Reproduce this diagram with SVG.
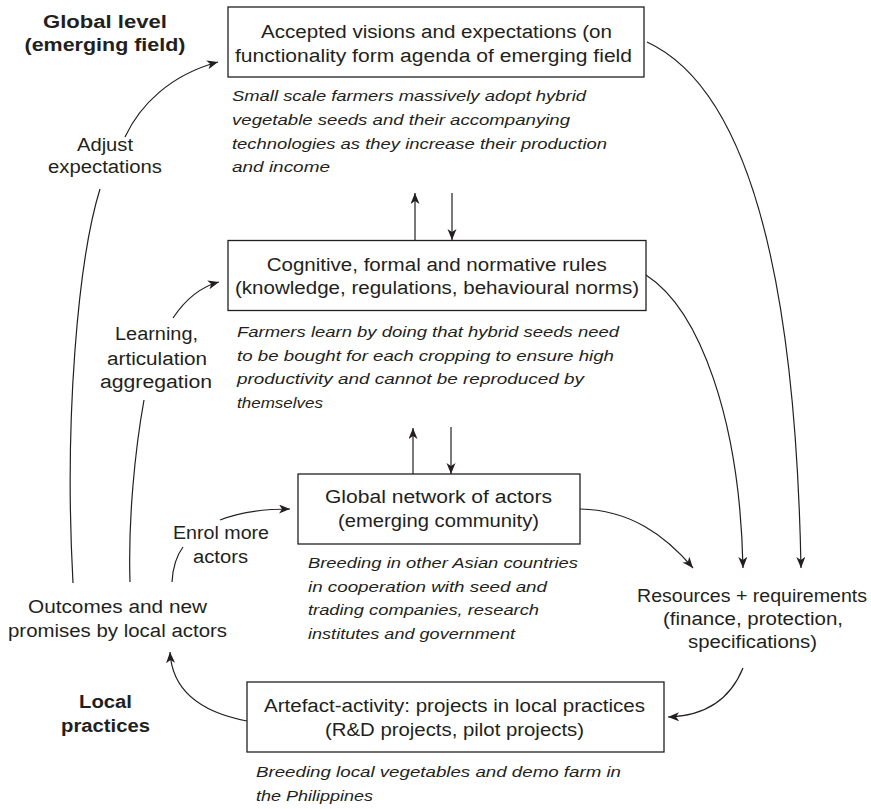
<svg xmlns="http://www.w3.org/2000/svg" width="871" height="809" viewBox="0 0 871 809">
<defs>
<marker id="ah" markerWidth="12" markerHeight="10" refX="11" refY="4.5" orient="auto" markerUnits="userSpaceOnUse">
<path d="M0,0 L11,4.5 L0,9 L3,4.5 z" fill="#231f20"/>
</marker>
<style>
.box{fill:#fff;stroke:#231f20;stroke-width:1.3}
text{lengthAdjust:spacingAndGlyphs}
.t{font-family:"Liberation Sans",Arial,sans-serif;font-size:18px;fill:#231f20;text-anchor:middle}
.b{font-family:"Liberation Sans",Arial,sans-serif;font-size:18px;font-weight:bold;fill:#231f20;text-anchor:middle}
.i{font-family:"Liberation Sans",Arial,sans-serif;font-size:15px;font-style:italic;fill:#231f20}
.c{fill:none;stroke:#231f20;stroke-width:1.2}
.a{marker-end:url(#ah)}
</style>
</defs>
<rect width="871" height="809" fill="#fff"/>

<g id="label-global">
<text class="b" x="105" y="28" textLength="124" lengthAdjust="spacingAndGlyphs">Global level</text>
<text class="b" x="105" y="51" textLength="161" lengthAdjust="spacingAndGlyphs">(emerging field)</text>
</g>
<g id="label-local">
<text class="b" x="105.5" y="708" textLength="53" lengthAdjust="spacingAndGlyphs">Local</text>
<text class="b" x="105.5" y="732" textLength="89" lengthAdjust="spacingAndGlyphs">practices</text>
</g>

<g id="visions">
<rect class="box" x="228" y="7" width="416" height="70"/>
<text class="t" x="436.5" y="38" textLength="351" lengthAdjust="spacingAndGlyphs">Accepted visions and expectations (on</text>
<text class="t" x="433.5" y="62" textLength="397" lengthAdjust="spacingAndGlyphs">functionality form agenda of emerging field</text>
<text class="i" x="232" y="101" textLength="354" lengthAdjust="spacingAndGlyphs">Small scale farmers massively adopt hybrid</text>
<text class="i" x="232" y="125" textLength="338" lengthAdjust="spacingAndGlyphs">vegetable seeds and their accompanying</text>
<text class="i" x="232" y="149" textLength="375" lengthAdjust="spacingAndGlyphs">technologies as they increase their production</text>
<text class="i" x="232" y="172" textLength="98" lengthAdjust="spacingAndGlyphs">and income</text>
</g>

<g id="rules">
<rect class="box" x="228" y="240.5" width="418" height="70"/>
<text class="t" x="436.7" y="271" textLength="340" lengthAdjust="spacingAndGlyphs">Cognitive, formal and normative rules</text>
<text class="t" x="437" y="294" textLength="404" lengthAdjust="spacingAndGlyphs">(knowledge, regulations, behavioural norms)</text>
<text class="i" x="237" y="337" textLength="382" lengthAdjust="spacingAndGlyphs">Farmers learn by doing that hybrid seeds need</text>
<text class="i" x="237" y="361" textLength="377" lengthAdjust="spacingAndGlyphs">to be bought for each cropping to ensure high</text>
<text class="i" x="237" y="384" textLength="347" lengthAdjust="spacingAndGlyphs">productivity and cannot be reproduced by</text>
<text class="i" x="237" y="408" textLength="86" lengthAdjust="spacingAndGlyphs">themselves</text>
</g>

<g id="network">
<rect class="box" x="298" y="474" width="282" height="70"/>
<text class="t" x="438.5" y="503" textLength="227" lengthAdjust="spacingAndGlyphs">Global network of actors</text>
<text class="t" x="438.5" y="527" textLength="201" lengthAdjust="spacingAndGlyphs">(emerging community)</text>
<text class="i" x="308" y="568" textLength="270" lengthAdjust="spacingAndGlyphs">Breeding in other Asian countries</text>
<text class="i" x="308" y="592" textLength="239" lengthAdjust="spacingAndGlyphs">in cooperation with seed and</text>
<text class="i" x="308" y="615" textLength="231" lengthAdjust="spacingAndGlyphs">trading companies, research</text>
<text class="i" x="308" y="639" textLength="207" lengthAdjust="spacingAndGlyphs">institutes and government</text>
</g>

<g id="artefact">
<rect class="box" x="247" y="682" width="417" height="70"/>
<text class="t" x="454.5" y="712" textLength="381" lengthAdjust="spacingAndGlyphs">Artefact-activity: projects in local practices</text>
<text class="t" x="454.5" y="736" textLength="259" lengthAdjust="spacingAndGlyphs">(R&amp;D projects, pilot projects)</text>
<text class="i" x="256" y="777" textLength="365" lengthAdjust="spacingAndGlyphs">Breeding local vegetables and demo farm in</text>
<text class="i" x="256" y="801" textLength="117" lengthAdjust="spacingAndGlyphs">the Philippines</text>
</g>

<g id="outcomes">
<text class="t" x="117.5" y="613" textLength="179" lengthAdjust="spacingAndGlyphs">Outcomes and new</text>
<text class="t" x="117.5" y="637" textLength="219" lengthAdjust="spacingAndGlyphs">promises by local actors</text>
</g>

<g id="resources">
<text class="t" x="752" y="602" textLength="230" lengthAdjust="spacingAndGlyphs">Resources + requirements</text>
<text class="t" x="753" y="625" textLength="180" lengthAdjust="spacingAndGlyphs">(finance, protection,</text>
<text class="t" x="752.5" y="648" textLength="129" lengthAdjust="spacingAndGlyphs">specifications)</text>
</g>

<g id="edge-labels">
<text class="t" x="105" y="151" textLength="56" lengthAdjust="spacingAndGlyphs">Adjust</text>
<text class="t" x="105" y="173" textLength="114" lengthAdjust="spacingAndGlyphs">expectations</text>
<text class="t" x="156.5" y="340" textLength="83" lengthAdjust="spacingAndGlyphs">Learning,</text>
<text class="t" x="157" y="365" textLength="100" lengthAdjust="spacingAndGlyphs">articulation</text>
<text class="t" x="156" y="388" textLength="112" lengthAdjust="spacingAndGlyphs">aggregation</text>
<text class="t" x="221" y="539" textLength="96" lengthAdjust="spacingAndGlyphs">Enrol more</text>
<text class="t" x="220.5" y="563" textLength="55" lengthAdjust="spacingAndGlyphs">actors</text>
</g>

<g id="connectors">
<path class="c" d="M73 583 C64 420 78 260 100 189"/>
<path class="c a" d="M125 137 C140 105 170 75 218 62"/>
<path class="c" d="M130 582 C128 520 135 450 144 400"/>
<path class="c a" d="M173 318 C185 300 200 287 219 282"/>
<path class="c" d="M172 582 C173 565 177 555 183 547"/>
<path class="c a" d="M220 520 C240 512 265 509 290 509"/>
<path class="c a" d="M247 721 C200 712 172 690 170 652"/>
<path class="c a" d="M743 668 C730 700 705 716 668 717"/>
<path class="c a" d="M580 509 C630 510 665 535 693 568"/>
<path class="c a" d="M646 275 C700 310 740 420 743 568"/>
<path class="c a" d="M647 42 C740 85 795 250 801 568"/>
<path class="c a" d="M415 240 L415 193"/>
<path class="c a" d="M452 193 L452 240"/>
<path class="c a" d="M413 474 L413 428"/>
<path class="c a" d="M451 427 L451 474"/>
</g>
</svg>
